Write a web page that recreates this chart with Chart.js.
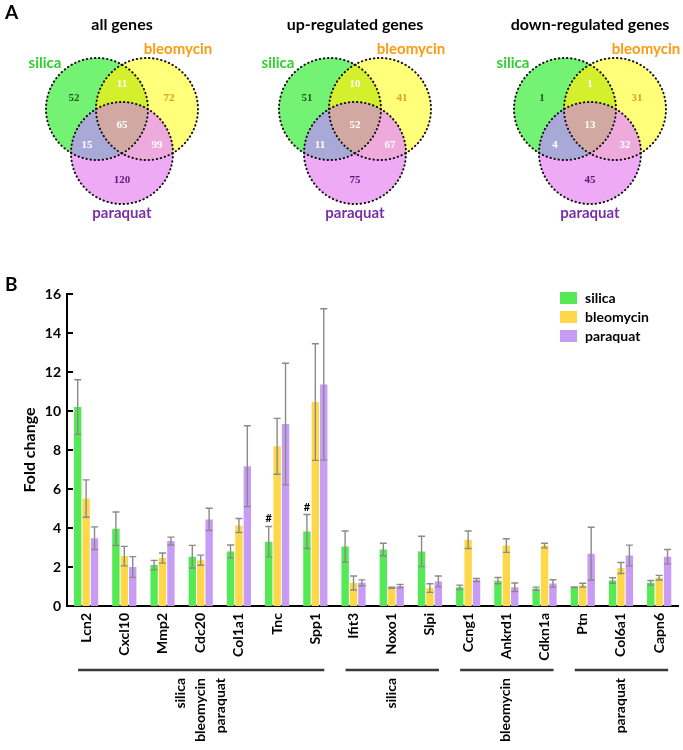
<!DOCTYPE html>
<html>
<head>
<meta charset="utf-8">
<script src="https://cdn.jsdelivr.net/npm/chart.js@4.4.0/dist/chart.umd.min.js"></script>
<style>
  body { margin: 0; background: #fff; }
  #wrap { position: relative; width: 683px; height: 750px; }
  canvas { position: absolute; left: 0; }
</style>
</head>
<body>
<div id="wrap">
  <canvas id="vennChart" width="683" height="270" style="top:0"></canvas>
  <canvas id="barChart" width="683" height="480" style="top:270px"></canvas>
</div>
<script>
// ---- panel A: venn counts ----
const vennTitles = ['all genes', 'up-regulated genes', 'down-regulated genes']
const vennSets = ['silica', 'bleomycin', 'paraquat']
// regions: silica only, silica+bleo, bleo only, all three, silica+para, bleo+para, para only
const allGenes = [52, 11, 72, 65, 15, 99, 120]
const upGenes = [51, 10, 41, 52, 11, 67, 75]
const downGenes = [1, 1, 31, 13, 4, 32, 45]

// ---- panel B: fold change ----
const genes = ['Lcn2', 'Cxcl10', 'Mmp2', 'Cdc20', 'Col1a1', 'Tnc', 'Spp1', 'Ifit3', 'Noxo1', 'Slpi', 'Ccng1', 'Ankrd1', 'Cdkn1a', 'Ptn', 'Col6a1', 'Capn6']
const silica = [10.2, 3.96, 2.1, 2.53, 2.8, 3.3, 3.82, 3.05, 2.9, 2.8, 0.96, 1.3, 0.89, 0.96, 1.31, 1.19]
const silicaErr = [1.4, 0.86, 0.24, 0.58, 0.33, 0.78, 0.87, 0.8, 0.32, 0.78, 0.11, 0.16, 0.08, 0.02, 0.14, 0.12]
const bleomycin = [5.51, 2.56, 2.46, 2.35, 4.13, 8.19, 10.46, 1.18, 0.94, 0.92, 3.4, 3.1, 3.1, 1.07, 1.95, 1.45]
const bleomycinErr = [0.96, 0.5, 0.26, 0.26, 0.36, 1.43, 2.99, 0.36, 0.03, 0.22, 0.45, 0.35, 0.12, 0.1, 0.28, 0.12]
const paraquat = [3.48, 2.0, 3.33, 4.44, 7.17, 9.33, 11.36, 1.19, 1.02, 1.26, 1.33, 0.96, 1.16, 2.68, 2.59, 2.53]
const paraquatErr = [0.58, 0.53, 0.2, 0.57, 2.07, 3.12, 3.88, 0.15, 0.09, 0.28, 0.08, 0.22, 0.19, 1.36, 0.53, 0.37]
const silicaMarks = ['', '', '', '', '', '#', '#', '', '', '', '', '', '', '', '', '']

const groupLabels = [['silica', 'bleomycin', 'paraquat'], ['silica'], ['bleomycin'], ['paraquat']]
const groupFirst = [0, 7, 10, 13]
const groupLast = [6, 9, 12, 15]

const FONT = 'Lato, "Liberation Sans", sans-serif'

// venn layout (in venn chart units)
const vennCenterX = [122, 355, 590]
const vennCenterY = 125
const circleOffsets = [[-25, -16], [25, -16], [0, 28]]
const circleR = 51
const regionMembers = [[1, 0, 0], [1, 1, 0], [0, 1, 0], [1, 1, 1], [1, 0, 1], [0, 1, 1], [0, 0, 1]]
const regionColors = ['#74f274', '#d4f02c', '#ffff7a', '#d2a9a2', '#a9a9d8', '#eeaadc', '#eeaaf5']
const numOffsets = [[-48, -27], [0, -41], [47, -27], [0, 0], [-35, 20], [35, 20], [0, 55]]
const numColors = ['#1d5a1d', '#ffffff', '#e39a2c', '#ffffff', '#ffffff', '#ffffff', '#5a2078']
const setColors = ['#2fcf2f', '#ff9a10', '#7a2fa8']

const vennPlugin = {
  id: 'venn',
  afterDraw(chart) {
    const ctx = chart.ctx
    const px = v => chart.scales.x.getPixelForValue(v)
    const py = v => chart.scales.y.getPixelForValue(v)
    const W = chart.width, H = chart.height
    const counts = [allGenes, upGenes, downGenes]
    ctx.save()
    ctx.fillStyle = '#000'
    ctx.font = 'bold 19px ' + FONT
    ctx.textBaseline = 'middle'
    ctx.textAlign = 'left'
    ctx.fillText('A', px(5), py(13))

    vennTitles.forEach((title, k) => {
      const cx = vennCenterX[k]
      const circles = circleOffsets.map(o => ({
        x: px(cx + o[0]), y: py(vennCenterY + o[1]),
        r: px(cx + circleR) - px(cx)
      }))
      regionMembers.forEach((m, ri) => {
        ctx.save()
        circles.forEach((c, ci) => {
          const p = new Path2D()
          if (m[ci]) {
            p.arc(c.x, c.y, c.r, 0, Math.PI * 2)
            ctx.clip(p)
          } else {
            p.rect(0, 0, W, H)
            p.arc(c.x, c.y, c.r, 0, Math.PI * 2)
            ctx.clip(p, 'evenodd')
          }
        })
        ctx.fillStyle = regionColors[ri]
        ctx.fillRect(0, 0, W, H)
        ctx.restore()
      })
      // dotted outlines
      ctx.save()
      ctx.strokeStyle = '#111'
      ctx.lineWidth = 2
      ctx.lineCap = 'round'
      ctx.setLineDash([0.5, 3.6])
      circles.forEach(c => {
        ctx.beginPath()
        ctx.arc(c.x, c.y, c.r, 0, Math.PI * 2)
        ctx.stroke()
      })
      ctx.restore()
      // counts
      ctx.font = 'bold 11px "Liberation Serif", serif'
      ctx.textAlign = 'center'
      counts[k].forEach((n, ri) => {
        ctx.fillStyle = numColors[ri]
        ctx.fillText(String(n), px(cx + numOffsets[ri][0]), py(vennCenterY + numOffsets[ri][1]))
      })
      // titles and set names
      ctx.fillStyle = '#000'
      ctx.font = 'bold 16px ' + FONT
      ctx.fillText(title, px(cx), py(25))
      ctx.font = 'bold 15px ' + FONT
      ctx.fillStyle = setColors[0]
      ctx.fillText(vennSets[0], px(cx - 77), py(63))
      ctx.fillStyle = setColors[1]
      ctx.fillText(vennSets[1], px(cx + 56), py(49))
      ctx.fillStyle = setColors[2]
      ctx.fillText(vennSets[2], px(cx), py(213))
    })
    ctx.restore()
  }
}

new Chart(document.getElementById('vennChart'), {
  type: 'scatter',
  data: { datasets: [{ data: [] }] },
  options: {
    responsive: false,
    devicePixelRatio: 1,
    animation: false,
    layout: { padding: 0 },
    plugins: { legend: { display: false }, tooltip: { enabled: false } },
    scales: {
      x: { type: 'linear', min: 0, max: 683, display: false },
      y: { type: 'linear', min: 0, max: 270, reverse: true, display: false }
    }
  },
  plugins: [vennPlugin]
})

// error bars, marks, legend, ticks and gene groups
const errors = [silicaErr, bleomycinErr, paraquatErr]
const barExtras = {
  id: 'barExtras',
  afterDatasetsDraw(chart) {
    const ctx = chart.ctx
    const y = chart.scales.y
    ctx.save()
    ctx.strokeStyle = '#8a8a8a'
    ctx.lineWidth = 1.4
    chart.data.datasets.forEach((ds, i) => {
      const meta = chart.getDatasetMeta(i)
      meta.data.forEach((bar, j) => {
        const v = ds.data[j], e = errors[i][j]
        const top = y.getPixelForValue(v + e)
        const bot = y.getPixelForValue(v - e)
        ctx.beginPath()
        ctx.moveTo(bar.x, top); ctx.lineTo(bar.x, bot)
        ctx.moveTo(bar.x - 3.5, top); ctx.lineTo(bar.x + 3.5, top)
        ctx.moveTo(bar.x - 3.5, bot); ctx.lineTo(bar.x + 3.5, bot)
        ctx.stroke()
        if (i === 0 && silicaMarks[j]) {
          ctx.fillStyle = '#000'
          ctx.font = 'bold 11px ' + FONT
          ctx.textAlign = 'center'
          ctx.textBaseline = 'bottom'
          ctx.fillText(silicaMarks[j], bar.x, top - 2)
        }
      })
    })
    ctx.restore()
  },
  afterDraw(chart) {
    const ctx = chart.ctx
    const x = chart.scales.x, y = chart.scales.y
    const area = chart.chartArea
    ctx.save()
    // panel label
    ctx.fillStyle = '#000'
    ctx.font = 'bold 19px ' + FONT
    ctx.textBaseline = 'middle'
    ctx.fillText('B', 5, 15)
    // inward y ticks
    ctx.strokeStyle = '#000'
    ctx.lineWidth = 2
    y.ticks.forEach(t => {
      const py = Math.round(y.getPixelForValue(t.value))
      ctx.beginPath()
      ctx.moveTo(area.left, py)
      ctx.lineTo(area.left + 6, py)
      ctx.stroke()
    })
    // legend
    ctx.font = 'bold 14px ' + FONT
    ctx.textAlign = 'left'
    chart.data.datasets.forEach((ds, i) => {
      const ly = 22 + i * 19
      ctx.fillStyle = ds.backgroundColor
      ctx.fillRect(560, ly, 17, 12)
      ctx.fillStyle = '#000'
      ctx.fillText(ds.label, 585, ly + 6.5)
    })
    // gene groups
    const lineY = 400
    groupLabels.forEach((lines, g) => {
      const x0 = x.getPixelForValue(groupFirst[g]) - 8
      const x1 = x.getPixelForValue(groupLast[g]) + 9
      ctx.strokeStyle = '#3a3a3a'
      ctx.lineWidth = 2.5
      ctx.beginPath()
      ctx.moveTo(x0, lineY)
      ctx.lineTo(x1, lineY)
      ctx.stroke()
      const mid = (x0 + x1) / 2 - 1
      ctx.fillStyle = '#000'
      ctx.font = 'bold 14px ' + FONT
      lines.forEach((txt, li) => {
        const lx = mid + (li - (lines.length - 1) / 2) * 20
        ctx.save()
        ctx.translate(lx, lineY + 8)
        ctx.rotate(-Math.PI / 2)
        ctx.textAlign = 'right'
        ctx.textBaseline = 'middle'
        ctx.fillText(txt, 0, 0)
        ctx.restore()
      })
    })
    ctx.restore()
  }
}

new Chart(document.getElementById('barChart'), {
  type: 'bar',
  data: {
    labels: genes,
    datasets: [
      { label: 'silica', data: silica, backgroundColor: '#55ea55' },
      { label: 'bleomycin', data: bleomycin, backgroundColor: '#ffd84a' },
      { label: 'paraquat', data: paraquat, backgroundColor: '#c89cf4' }
    ]
  },
  options: {
    responsive: false,
    devicePixelRatio: 1,
    animation: false,
    layout: { padding: { top: 24, right: 1, left: 0, bottom: 0 } },
    datasets: { bar: { categoryPercentage: 0.66, barPercentage: 0.88, borderWidth: 0 } },
    plugins: { legend: { display: false }, tooltip: { enabled: false } },
    scales: {
      x: {
        grid: { display: false, drawTicks: false },
        border: { color: '#000', width: 2 },
        ticks: {
          color: '#000', font: { family: FONT, size: 14, weight: 'bold' },
          maxRotation: 90, minRotation: 90, padding: 7, autoSkip: false
        },
        afterFit: s => { s.height = 144 }
      },
      y: {
        min: 0, max: 16,
        grid: { display: false, drawTicks: false },
        border: { color: '#000', width: 2 },
        ticks: { stepSize: 2, color: '#000', font: { family: FONT, size: 14, weight: 'bold' }, padding: 6 },
        title: {
          display: true, text: 'Fold change', color: '#000',
          font: { family: FONT, size: 16, weight: 'bold' },
          padding: { top: 20, bottom: 0 }
        },
        afterFit: s => { s.width = 67 }
      }
    }
  },
  plugins: [barExtras]
})
</script>
</body>
</html>
